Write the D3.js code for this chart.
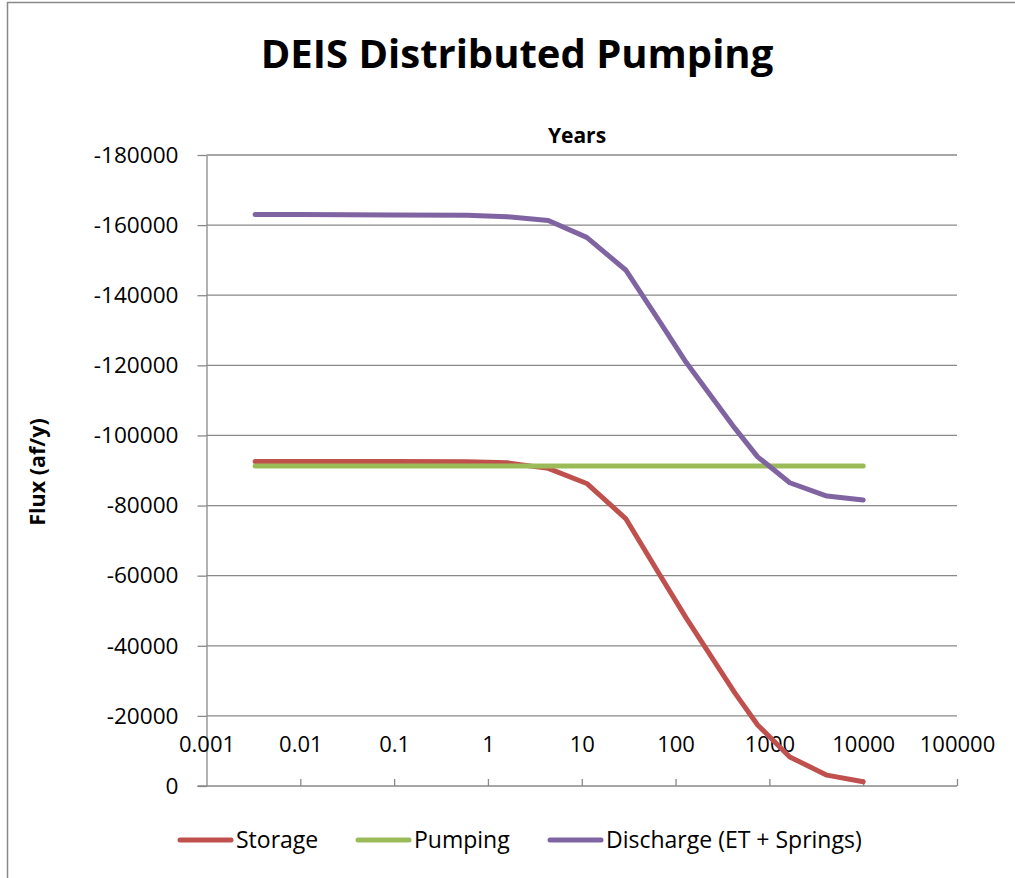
<!DOCTYPE html>
<meta charset="utf-8">
<script src="https://d3js.org/d3.v7.min.js"></script>
<style>
  body { margin: 0; background: #fff; }
  text { font-family: "Open Sans", "Noto Sans", sans-serif; fill: #000; }
  .grid line { stroke: #898989; stroke-width: 1.3px; }
  .axis path, .axis line { stroke: #898989; stroke-width: 1.3px; }
  .series { fill: none; stroke-width: 5px; stroke-linecap: round; stroke-linejoin: round; }
</style>
<div id="chart"></div>
<script>
// data
var years     = [0.0033, 0.01, 0.1, 0.6, 1.6, 4.4, 11.3, 29.4, 68, 130, 430, 750, 1650, 4100, 10000];
var storage   = [-92600, -92600, -92600, -92500, -92200, -90600, -86300, -76300, -60200, -47900, -26500, -17400, -8300, -3100, -1200];
var pumping   = [-91300, -91300, -91300, -91300, -91300, -91300, -91300, -91300, -91300, -91300, -91300, -91300, -91300, -91300, -91300];
var discharge = [-163000, -163000, -162900, -162800, -162400, -161300, -156500, -147200, -132400, -120800, -102000, -93900, -86500, -82700, -81600];

var seriesNames  = ["Storage", "Pumping", "Discharge (ET + Springs)"];
var seriesColors = ["#C0504D", "#9BBB59", "#8064A2"];
var xTicks = [0.001, 0.01, 0.1, 1, 10, 100, 1000, 10000, 100000];
var yTicks = [-180000, -160000, -140000, -120000, -100000, -80000, -60000, -40000, -20000, 0];

var W = 1015, H = 878;
var margin = {top: 155, right: 58, bottom: 92, left: 206.5};
var width = W - margin.left - margin.right,
    height = H - margin.top - margin.bottom;

var svg = d3.select("#chart").append("svg")
    .attr("width", W)
    .attr("height", H);

// outer chart border
svg.append("rect")
    .attr("x", 7.5).attr("y", 2.5)
    .attr("width", W).attr("height", H)
    .attr("fill", "none")
    .attr("stroke", "#898989")
    .attr("stroke-width", 1.5);

var g = svg.append("g")
    .attr("transform", "translate(" + margin.left + "," + margin.top + ")");

var x = d3.scaleLog()
    .domain([0.001, 100000])
    .range([0, width]);

// reversed value axis: -180000 at the top, 0 at the bottom
var y = d3.scaleLinear()
    .domain([-180000, 0])
    .range([0, height]);

// horizontal gridlines
g.append("g")
    .attr("class", "grid")
  .selectAll("line")
  .data(yTicks.filter(function(d) { return d !== 0; }))
  .enter().append("line")
    .attr("x1", 0).attr("x2", width)
    .attr("y1", function(d) { return y(d); })
    .attr("y2", function(d) { return y(d); });

// y axis
var yAxis = g.append("g")
    .attr("class", "axis")
    .call(d3.axisLeft(y).tickValues(yTicks).tickSize(9).tickSizeOuter(0).tickPadding(19)
      .tickFormat(function(d) { return String(d); }));
yAxis.selectAll("text").style("font-size", "22.6px");

// x axis along value 0, ticks pointing inward, labels above
var xAxis = g.append("g")
    .attr("class", "axis")
    .attr("transform", "translate(0," + y(0) + ")")
    .call(d3.axisTop(x).tickValues(xTicks).tickSize(7).tickSizeOuter(0)
      .tickFormat(function(d) { return String(d); }));
xAxis.select(".domain").attr("d", "M-9,0H" + width);
xAxis.selectAll("text")
    .attr("y", -34)
    .attr("dy", 0)
    .style("font-size", "22px");
xAxis.selectAll(".tick").filter(function(d) { return d === 0.001; }).select("line").remove();

// lines
var line = d3.line()
    .x(function(d) { return x(d[0]); })
    .y(function(d) { return y(d[1]); });

var seriesData = [storage, pumping, discharge];
seriesData.forEach(function(vals, i) {
  g.append("path")
      .attr("class", "series")
      .attr("stroke", seriesColors[i])
      .attr("d", line(years.map(function(t, j) { return [t, vals[j]]; })));
});

// titles
svg.append("text")
    .attr("x", 517).attr("y", 68)
    .attr("text-anchor", "middle")
    .style("font-size", "40px")
    .style("font-weight", "bold")
    .text("DEIS Distributed Pumping");

svg.append("text")
    .attr("x", 577).attr("y", 143)
    .attr("text-anchor", "middle")
    .style("font-size", "21px")
    .style("font-weight", "bold")
    .text("Years");

svg.append("text")
    .attr("transform", "translate(45,472) rotate(-90)")
    .attr("text-anchor", "middle")
    .style("font-size", "21.5px")
    .style("font-weight", "bold")
    .text("Flux (af/y)");

// legend
var legendX = [177, 355, 547];
var legend = svg.append("g");
seriesNames.forEach(function(name, i) {
  legend.append("line")
      .attr("x1", legendX[i] + 3).attr("x2", legendX[i] + 54)
      .attr("y1", 840).attr("y2", 840)
      .attr("stroke", seriesColors[i])
      .attr("stroke-width", 5)
      .attr("stroke-linecap", "round");
  legend.append("text")
      .attr("x", legendX[i] + 59).attr("y", 848)
      .style("font-size", "23px")
      .text(name);
});
</script>
